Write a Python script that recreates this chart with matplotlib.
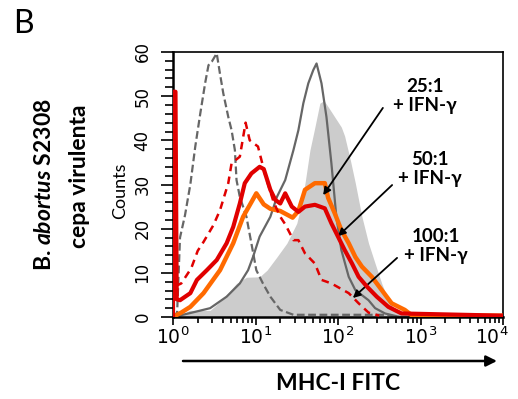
import numpy as np
import matplotlib
matplotlib.use('Agg')
import matplotlib.pyplot as plt
from matplotlib.ticker import LogLocator, FixedLocator, FuncFormatter
from matplotlib.transforms import ScaledTranslation

plt.rcParams['mathtext.fontset'] = 'custom'
plt.rcParams['mathtext.rm'] = 'DejaVu Sans'
plt.rcParams['mathtext.it'] = 'Lato:italic:bold'

# histogram traces, x given as log10(MHC-I FITC), y = counts
fill_logs = [0.0, 0.1, 0.2, 0.45, 0.6, 0.77, 0.89, 1.05, 1.14, 1.26, 1.38, 1.5, 1.54, 1.6,
             1.66, 1.72, 1.78, 1.83, 1.88, 1.96, 2.04, 2.08, 2.15, 2.21, 2.29, 2.37, 2.45,
             2.53, 2.61, 2.69, 2.85, 3.0, 4.0]
fill_vals = [0, 0.5, 1.5, 1.5, 4, 7.6, 9, 9.1, 10.6, 13.6, 16.7, 21.2, 24.2, 30.3,
             37.8, 43, 48.4, 49, 47.6, 45.3, 43, 41, 35.5, 30.3, 22.7, 16.7, 12.1,
             7.6, 3.8, 1.6, 0.4, 0, 0]

gray_logs = [0.0, 0.21, 0.45, 0.65, 0.81, 0.91, 0.97, 1.05, 1.18, 1.26, 1.36, 1.46, 1.52,
             1.58, 1.64, 1.70, 1.74, 1.80, 1.86, 1.92, 1.98, 2.04, 2.13, 2.21, 2.37, 2.45,
             2.57, 2.75, 4.0]
gray_vals = [0, 0.9, 2, 4.6, 7.6, 10.6, 13.6, 18.2, 22.7, 27.2, 31, 37.8, 42.3,
             48.4, 52.9, 55.9, 57.4, 52.9, 45.3, 34.8, 22.7, 15.2, 9.1, 6.1, 3.8, 2,
             0.8, 0, 0]

gdash_logs = [0.0, 0.05, 0.085, 0.145, 0.21, 0.27, 0.33, 0.39, 0.43, 0.47, 0.53, 0.57, 0.61,
              0.67, 0.71, 0.75, 0.77, 0.81, 0.89, 0.95, 1.01, 1.09, 1.18, 1.30, 1.46, 2.6,
              2.7, 4.0]
gdash_vals = [0, 1, 18, 23, 30, 38.6, 46, 53, 57, 57.8, 59.7, 55, 50.6,
              45.3, 42.3, 37.8, 31, 27.2, 22.7, 16.7, 10.6, 7.6, 4.6, 1.6, 0.5, 0.5,
              0, 0]

orange_logs = [0.0, 0.1, 0.21, 0.37, 0.57, 0.73, 0.85, 0.95, 1.01, 1.1, 1.18, 1.30, 1.45,
               1.52, 1.60, 1.72, 1.84, 1.88, 1.96, 2.04, 2.13, 2.21, 2.29, 2.41, 2.53,
               2.65, 2.81, 2.9, 4.0]
orange_vals = [0, 1, 2.3, 5.4, 10.6, 16.7, 22.7, 26, 28, 25.5, 24.5, 24, 22.5,
               24, 28.8, 30.3, 30.3, 27, 23.5, 19.7, 16.7, 13.6, 11.4, 9.1, 6.1,
               3.1, 1.6, 0.3, 0.3]

red_logs = [0, 0, 0.03, 0.045, 0.085, 0.21, 0.29, 0.41, 0.53, 0.65, 0.73, 0.81, 0.87, 0.95,
            1.05, 1.1, 1.18, 1.24, 1.30, 1.36, 1.44, 1.52, 1.60, 1.72, 1.84, 1.92, 2.00,
            2.08, 2.17, 2.25, 2.35, 2.47, 2.61, 2.77, 4.0]
red_vals = [0, 51, 51, 4, 3.8, 5.4, 8.4, 10.6, 12.9, 16.7, 20.4, 25.7, 30.3, 32.5,
            34, 33.5, 28.8, 26.5, 25.7, 28, 25, 23.8, 25, 25.4, 24.6, 21.2, 18.2,
            15.2, 12.1, 9.1, 6.9, 4.6, 2.3, 0.8, 0.3]

rdash_logs = [0.03, 0.1, 0.22, 0.3, 0.37, 0.49, 0.57, 0.67, 0.71, 0.81, 0.88, 0.93, 1.03,
              1.12, 1.22, 1.30, 1.36, 1.46, 1.52, 1.60, 1.72, 1.80, 1.92, 2.13, 2.25,
              2.37, 2.5]
rdash_vals = [7, 7.6, 11, 15, 17, 20.8, 24.2, 30.3, 34.8, 36.3, 44, 40, 38.6,
              32, 26, 22.7, 21, 17.4, 17.4, 14.4, 12.1, 8.4, 7.6, 5.4, 3.1,
              1, 0.3]

labels = ['25:1\n+ IFN-γ', '50:1\n+ IFN-γ', '100:1\n+ IFN-γ']
label_pos = [(0.764, 0.834), (0.779, 0.558), (0.797, 0.268)]
arrow_tail = [(0.636, 0.789), (0.664, 0.498), (0.679, 0.223)]
arrow_tip = [(1.82, 27.6), (2.0, 18.3), (2.18, 4.3)]

W, H = 518, 399
fig = plt.figure(figsize=(W / 100, H / 100), dpi=100)
ax = fig.add_axes([173 / W, 1 - 317 / H, 330 / W, 265 / H])

def X(logs):
    return 10 ** np.asarray(logs, dtype=float)

gray = '#666666'
ax.fill_between(X(fill_logs), fill_vals, 0, color='#cccccc', lw=0, zorder=1)
ax.plot(X(gray_logs), gray_vals, color=gray, lw=1.6, zorder=2)
ax.plot(X(gdash_logs), gdash_vals, color=gray, lw=1.6, dashes=(3.5, 1.6), zorder=2)
ax.plot(X(orange_logs), orange_vals, color='#ff6a00', lw=3.2, zorder=3)
ax.plot(X(red_logs), red_vals, color='#e00000', lw=3.0, zorder=4)
ax.plot(X(rdash_logs), rdash_vals, color='#e00000', lw=1.8, dashes=(3, 2.2), zorder=4)

ax.set_xscale('log')
ax.set_xlim(1, 1e4)
ax.set_ylim(0, 60)
ax.xaxis.set_major_locator(FixedLocator([1, 10, 100, 1000, 10000]))
ax.xaxis.set_minor_locator(LogLocator(base=10, subs=np.arange(2, 10), numticks=20))
ax.xaxis.set_major_formatter(FuncFormatter(
    lambda v, p: r'$\mathregular{10^{%d}}$' % round(np.log10(v))))
ax.set_yticks(range(0, 61, 10))
ax.set_yticks(range(0, 61, 2), minor=True)

ax.tick_params(axis='y', which='major', length=8.5, width=1.2, labelsize=12,
               labelrotation=90, pad=7)
ax.tick_params(axis='y', which='minor', length=5.5, width=1.2)
ax.tick_params(axis='x', which='major', length=6, width=1.2, labelsize=13.5, pad=1)
ax.tick_params(axis='x', which='minor', length=4, width=1.2)
for lab in ax.get_yticklabels():
    lab.set_va('center')

# last x label sits flush against the right edge, as in the original
fig.canvas.draw()
last = ax.get_xticklabels()[-1]
last.set_ha('right')
last.set_transform(last.get_transform() + ScaledTranslation(6 / 100, 0, fig.dpi_scale_trans))

for s in ['left', 'bottom']:
    ax.spines[s].set_linewidth(1.8)
for s in ['top', 'right']:
    ax.spines[s].set_linewidth(1.2)

for txt, pos in zip(labels, label_pos):
    ax.text(pos[0], pos[1], txt, transform=ax.transAxes, ha='center', va='center',
            fontsize=13.5, fontweight='bold', family=['Lato', 'DejaVu Sans'],
            linespacing=1.15)
for tail, tip in zip(arrow_tail, arrow_tip):
    ax.annotate('', xy=(10 ** tip[0], tip[1]), xytext=tail, textcoords='axes fraction',
                arrowprops=dict(arrowstyle='-|>', color='black', lw=1.3,
                                mutation_scale=11, shrinkA=0, shrinkB=0))

# x-axis arrow and labels outside the plot
ax.annotate('', xy=(497, H - 361), xytext=(183, H - 361), xycoords='figure pixels',
            textcoords='figure pixels',
            arrowprops=dict(arrowstyle='-|>', color='black', lw=1.8,
                            mutation_scale=16, shrinkA=0, shrinkB=0))
fig.text(338 / W, 1 - 384 / H, 'MHC-I FITC', ha='center', va='center',
         fontsize=16.5, fontweight='bold', family='Lato')
fig.text(23 / W, 1 - 24 / H, 'B', ha='center', va='center', fontsize=23, family='Lato')
fig.text(45 / W, 1 - 185 / H, r'B. $abortus$ S2308', rotation=90, ha='center',
         va='center', fontsize=16.5, fontweight='bold', family='Lato')
fig.text(80 / W, 1 - 176 / H, 'cepa virulenta', rotation=90, ha='center',
         va='center', fontsize=16.5, fontweight='bold', family='Lato')
fig.text(120 / W, 1 - 191 / H, 'Counts', rotation=90, ha='center', va='center',
         fontsize=13, family='Lato')

fig.savefig('out.png', dpi=100)
